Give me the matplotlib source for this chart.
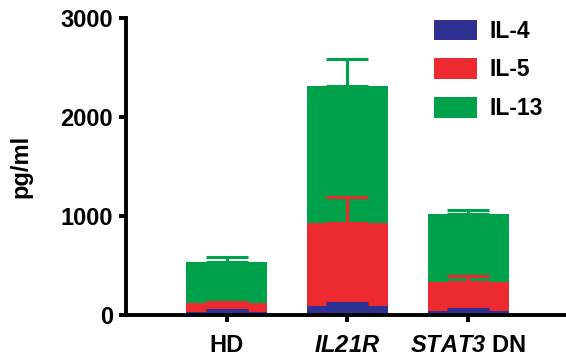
import numpy as np
import matplotlib.pyplot as plt

plt.rcParams['font.family'] = ['Liberation Sans', 'DejaVu Sans']
plt.rcParams['font.weight'] = 'bold'
plt.rcParams['mathtext.fontset'] = 'custom'
plt.rcParams['mathtext.it'] = 'Liberation Sans:italic:bold'
plt.rcParams['mathtext.rm'] = 'Liberation Sans:italic:bold'

# cytokine levels (pg/ml), mean and upper error per group
groups = ["HD", r"$IL21R$", r"$STAT3$ DN"]
il4 = [32, 94, 43]
il5 = [86, 832, 287]
il13 = [414, 1390, 690]
il4_err = [17, 27, 21]
il5_err = [16, 266, 67]
il13_err = [54, 267, 37]

C_IL4 = "#2e3192"
C_IL5 = "#ed2a2f"
C_IL13 = "#00a14b"

fig = plt.figure(figsize=(5.66, 3.58), dpi=100)
ax = fig.add_axes([0.222, 0.12, 0.778, 0.83])

x = np.arange(len(groups))
w = 0.67
b5 = np.array(il4)
b13 = b5 + np.array(il5)

ekw = dict(elinewidth=2.2, capsize=15, capthick=2.2)
err_lo = [0, 0, 0]
ax.bar(x, il13, w, bottom=b13, color=C_IL13, label="IL-13", zorder=2)
ax.errorbar(x, b13 + np.array(il13), yerr=[err_lo, il13_err], fmt="none",
            ecolor=C_IL13, zorder=1, **ekw)
ax.bar(x, il5, w, bottom=b5, color=C_IL5, label="IL-5", zorder=4)
ax.errorbar(x, b13, yerr=[err_lo, il5_err], fmt="none",
            ecolor=C_IL5, zorder=3, **ekw)
ax.bar(x, il4, w, color=C_IL4, label="IL-4", zorder=6)
ax.errorbar(x, b5, yerr=[err_lo, il4_err], fmt="none",
            ecolor=C_IL4, zorder=5, **ekw)

ax.set_xlim(-0.835, 2.81)
ax.set_ylim(0, 3000)
ax.set_yticks([0, 1000, 2000, 3000])
ax.set_xticks(x)
ax.set_xticklabels(groups)
ax.set_ylabel("pg/ml", fontsize=17, fontweight="bold", labelpad=20)

for s in ["top", "right"]:
    ax.spines[s].set_visible(False)
for s in ["left", "bottom"]:
    ax.spines[s].set_linewidth(2.8)
    ax.spines[s].set_zorder(10)
ax.tick_params(axis="both", width=2.8, length=5, labelsize=17, pad=4)
ax.tick_params(axis="x", pad=9)

h, l = ax.get_legend_handles_labels()
fig.legend(h[::-1], l[::-1], loc="upper left", bbox_to_anchor=(0.767, 0.945),
           frameon=False, fontsize=16.5, handlelength=1.85, handleheight=1.0,
           labelspacing=0.68, handletextpad=0.55, borderpad=0, borderaxespad=0)

fig.savefig("out.png", dpi=100)
